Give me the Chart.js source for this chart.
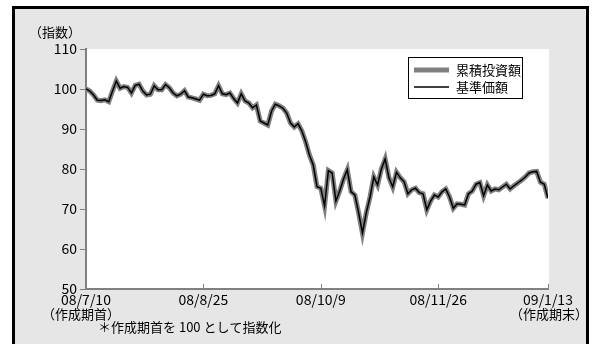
<!DOCTYPE html>
<html>
<head>
<meta charset="utf-8">
<script src="https://cdn.jsdelivr.net/npm/chart.js@4/dist/chart.umd.min.js"></script>
<style>
html, body { margin: 0; padding: 0; background: #fff; }
#wrap { width: 599px; height: 344px; }
</style>
</head>
<body>
<div id="wrap"><canvas id="chart" width="599" height="344"></canvas></div>
<script>
// 基準価額（作成期首を100として指数化）
var navValues = [
    100, 99.5, 98.5, 97.2, 97.1, 97.3, 96.8, 99.5, 102, 100.2,
    100.6, 100.4, 99, 100.9, 101.2, 99.5, 98.5, 98.7, 100.8, 99.8,
    99.8, 101.1, 100.3, 99, 98.3, 98.7, 99.6, 98, 97.8, 97.5,
    97.2, 98.7, 98.3, 98.4, 98.8, 100.8, 98.8, 98.6, 99, 97.6,
    96.5, 98.8, 97, 96.5, 95.3, 96, 92, 91.5, 91, 94.5,
    96.2, 95.8, 95.2, 94, 91.5, 90.5, 91.3, 89.5, 86.8, 83.5,
    81, 75.6, 75.2, 70.8, 79.6, 79, 72, 74.5, 77.5, 79.8,
    74.3, 73.5, 69, 64, 69, 73, 78, 76, 80, 82.5,
    77.8, 75.5, 79.2, 77.8, 76.8, 73.8, 74.8, 75.2, 74.1, 73.8,
    69.8, 72, 73.5, 73, 74.3, 75, 73, 70.2, 71.3, 71.2,
    71, 73.8, 74.5, 76.2, 76.6, 73.3, 76, 74.5, 75, 74.8,
    75.5, 76.2, 75, 75.8, 76.5, 77.2, 78, 79, 79.3, 79.4,
    76.7, 76.2, 72.7
];
// 累積投資額（基準価額とほぼ重なる）
var investValues = navValues.slice();

var seriesNames = ['累積投資額', '基準価額'];
var tickIndex = [0, 31, 62, 93, 122];
var tickLabels = ['08/7/10', '08/8/25', '08/10/9', '08/11/26', '09/1/13'];
var yTicks = [50, 60, 70, 80, 90, 100, 110];

var fontFam = "'Liberation Sans Narrow', 'Noto Sans CJK JP', sans-serif";
var jpFont = "'Noto Sans CJK JP', sans-serif";

var toPoints = function(vals) {
    return vals.map(function(v, i) { return { x: i, y: v }; });
};

var framePlugin = {
    id: 'frame',
    beforeDraw: function(chart) {
        var ctx = chart.ctx;
        var a = chart.chartArea;
        ctx.save();
        ctx.fillStyle = '#fff';
        ctx.fillRect(0, 0, chart.width, chart.height);
        ctx.fillStyle = '#e6e6e6';
        ctx.fillRect(13, 7, 575, 345);
        ctx.strokeStyle = '#000';
        ctx.lineWidth = 3;
        ctx.strokeRect(13.5, 7.5, 574, 345);
        ctx.fillStyle = '#fff';
        ctx.fillRect(a.left, a.top, a.right - a.left + 1, a.bottom - a.top);
        ctx.restore();
    },
    afterDraw: function(chart) {
        var ctx = chart.ctx;
        var a = chart.chartArea;
        var xs = chart.scales.x;
        ctx.save();
        // inner ticks on x axis
        ctx.strokeStyle = '#808080';
        ctx.lineWidth = 1;
        tickIndex.forEach(function(t, i) {
            if (i === 0) return;
            var px = Math.round(xs.getPixelForValue(t)) + 0.5;
            ctx.beginPath();
            ctx.moveTo(px, a.bottom);
            ctx.lineTo(px, a.bottom - 5);
            ctx.stroke();
        });
        // texts
        ctx.fillStyle = '#000';
        ctx.font = '13px ' + jpFont;
        ctx.textBaseline = 'middle';
        ctx.textAlign = 'left';
        ctx.fillText('（指数）', 29, 32);
        ctx.fillText('（作成期首）', 42, 314);
        ctx.textAlign = 'right';
        ctx.fillText('（作成期末）', 588, 314);
        ctx.textAlign = 'left';
        ctx.fillText('＊作成期首を 100 として指数化', 98, 327);
        // legend box
        ctx.fillStyle = '#fff';
        ctx.fillRect(408, 57, 114, 41);
        ctx.strokeStyle = '#000';
        ctx.lineWidth = 1;
        ctx.strokeRect(408.5, 57.5, 114, 41);
        chart.data.datasets.forEach(function(ds, i) {
            var ly = 70 + i * 17;
            ctx.strokeStyle = ds.borderColor;
            ctx.lineWidth = ds.borderWidth;
            ctx.beginPath();
            ctx.moveTo(414, ly);
            ctx.lineTo(449, ly);
            ctx.stroke();
            ctx.fillStyle = '#000';
            ctx.font = '13px ' + jpFont;
            ctx.textAlign = 'left';
            ctx.fillText(ds.label, 456, ly);
        });
        ctx.restore();
    }
};

var ctxD = document.getElementById('chart').getContext('2d');
var myLineChart = new Chart(ctxD, {
    type: 'line',
    data: {
        datasets: [
            {
                label: seriesNames[0],
                data: toPoints(investValues),
                borderColor: '#808080',
                borderWidth: 5,
                pointRadius: 0,
                tension: 0,
                order: 2
            },
            {
                label: seriesNames[1],
                data: toPoints(navValues),
                borderColor: '#000000',
                borderWidth: 1.5,
                pointRadius: 0,
                tension: 0,
                order: 1
            }
        ]
    },
    options: {
        responsive: false,
        animation: false,
        layout: { padding: { left: 0, right: 51, top: 49, bottom: 0 } },
        plugins: {
            legend: { display: false },
            tooltip: { enabled: false }
        },
        scales: {
            x: {
                type: 'linear',
                min: 0,
                max: 122,
                afterBuildTicks: function(scale) {
                    scale.ticks = tickIndex.map(function(v) { return { value: v }; });
                },
                afterFit: function(scale) { scale.height = 55; },
                ticks: {
                    autoSkip: false,
                    maxRotation: 0,
                    padding: 2,
                    color: '#000',
                    font: { family: fontFam, size: 14 },
                    callback: function(value) {
                        var k = tickIndex.indexOf(value);
                        return k >= 0 ? tickLabels[k] : '';
                    }
                },
                grid: { display: false, drawTicks: false },
                border: { display: true, color: '#808080', width: 2 }
            },
            y: {
                min: 50,
                max: 110,
                afterBuildTicks: function(scale) {
                    scale.ticks = yTicks.map(function(v) { return { value: v }; });
                },
                afterFit: function(scale) { scale.width = 86; },
                ticks: {
                    color: '#000',
                    padding: 3,
                    font: { family: fontFam, size: 14 }
                },
                grid: {
                    drawOnChartArea: false,
                    drawTicks: true,
                    tickLength: 6,
                    color: '#808080',
                    lineWidth: 1
                },
                border: { display: true, color: '#808080', width: 2 }
            }
        }
    },
    plugins: [framePlugin]
});
</script>
</body>
</html>
